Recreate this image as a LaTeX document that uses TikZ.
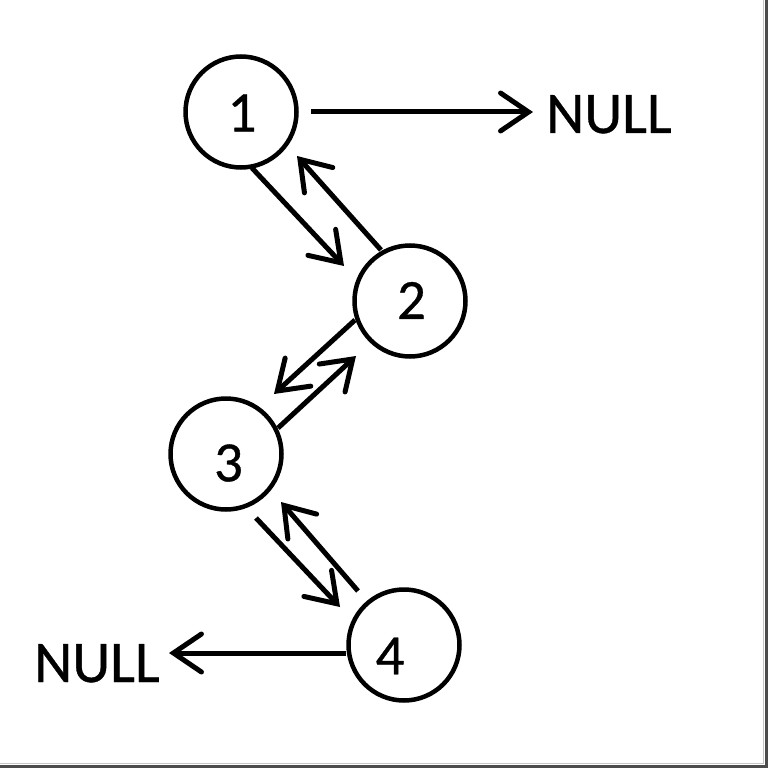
\documentclass[tikz,border=0pt]{standalone}
\usepackage{fontspec}
\setmainfont{Carlito}
\newfontfamily\labelfont[FakeBold=0.6]{Carlito}
\usetikzlibrary{arrows.meta}
\begin{document}
\begin{tikzpicture}[x=1pt,y=-1pt,
  ring/.style={circle,draw,line width=4.5pt,minimum size=111pt,inner sep=0pt},
  digit/.style={inner sep=0pt,font=\labelfont\fontsize{57}{57}\selectfont},
  nulltext/.style={inner sep=0pt,font=\labelfont\fontsize{59}{59}\selectfont},
  link/.style={line width=5pt,-{Straight Barb[length=28pt,width=38pt,line cap=round]}}]
\useasboundingbox (0,0) rectangle (770,770);
\fill[white] (0,0) rectangle (770,770);
% frame shadow
\draw[gray!45,line width=1pt] (763.5,0) -- (763.5,763.5) -- (0,763.5);
\draw[black!70,line width=3pt] (766.5,0) -- (766.5,766.5) -- (0,766.5);
% circles
\node[ring] (c1) at (241,112) {};
\node[ring] (c2) at (410,301) {};
\node[ring] (c3) at (226,454) {};
\node[ring] (c4) at (404,645) {};
% digits
\node[digit] (t1) at (242,113) {1};
\node[digit] (t2) at (411.5,300.5) {2};
\node[digit] (t3) at (228.5,463) {3};
\node[digit] (t4) at (390,656) {4};
% NULL labels
\node[nulltext,anchor=base west] (nr) at (546,133) {NULL};
\node[nulltext,anchor=base west] (nl) at (34,682) {NULL};
% arrow endpoints
\coordinate (a1s) at (311,112);  \coordinate (a1e) at (533,112);
\coordinate (a2s) at (252,168);  \coordinate (a2e) at (344,266);
\coordinate (a3s) at (381,250);  \coordinate (a3e) at (297,156);
\coordinate (a4s) at (355,320);  \coordinate (a4e) at (274,394);
\coordinate (a5s) at (278,428);  \coordinate (a5e) at (356,356);
\coordinate (a6s) at (256,518);  \coordinate (a6e) at (340,607);
\coordinate (a7s) at (358,591);  \coordinate (a7e) at (281,502);
\coordinate (a8s) at (346,653);  \coordinate (a8e) at (169,653);
\draw[link] (a1s) -- (a1e);
\draw[link] (a2s) -- (a2e);
\draw[link] (a3s) -- (a3e);
\draw[link] (a4s) -- (a4e);
\draw[link] (a5s) -- (a5e);
\draw[link] (a6s) -- (a6e);
\draw[link] (a7s) -- (a7e);
\draw[link] (a8s) -- (a8e);
\end{tikzpicture}
\end{document}
